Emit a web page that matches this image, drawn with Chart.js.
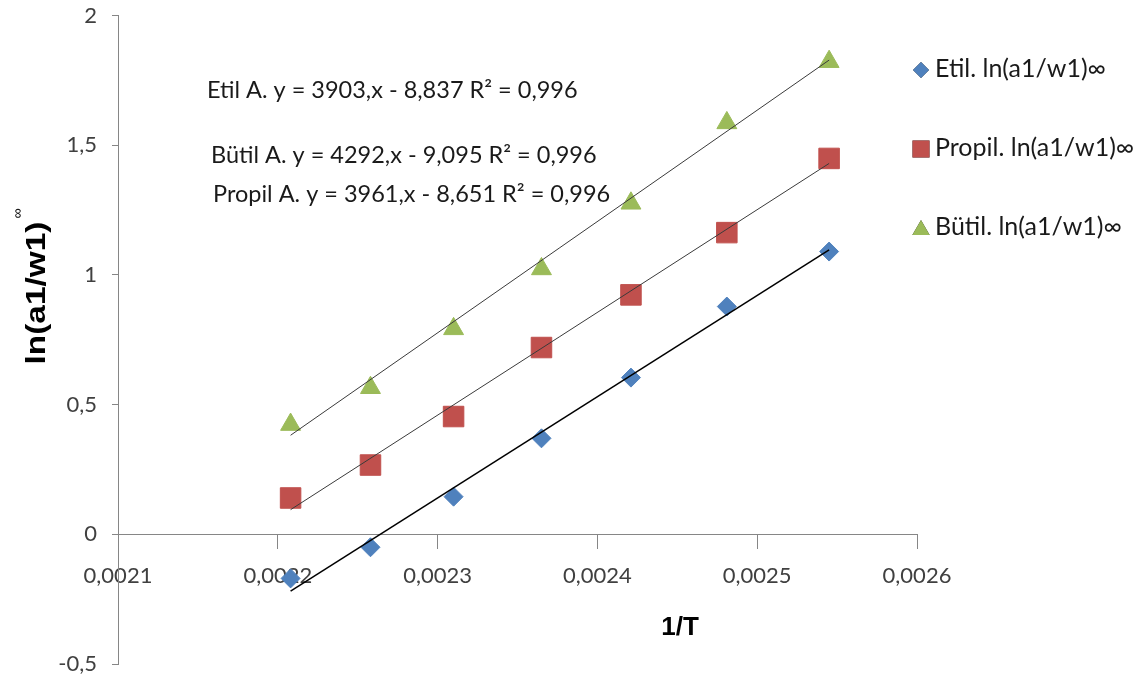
<!DOCTYPE html>
<html lang="tr">
<head>
<meta charset="utf-8">
<title>ln(a1/w1)∞ - 1/T</title>
<script src="https://cdn.jsdelivr.net/npm/chart.js@4.4.1/dist/chart.umd.min.js"></script>
<style>
  html, body { margin: 0; padding: 0; background: #fff; }
  #wrap { position: relative; width: 1145px; height: 684px; }
</style>
</head>
<body>
<div id="wrap"><canvas id="chart"></canvas></div>
<script>
// 1/T değerleri (x ekseni)
const invT = [0.002208, 0.002258, 0.00231, 0.002365, 0.002421, 0.002481, 0.002545];

// ln(a1/w1)∞ değerleri
const etil = [-0.17, -0.05, 0.145, 0.37, 0.604, 0.878, 1.09];
const propil = [0.14, 0.267, 0.454, 0.72, 0.923, 1.163, 1.449];
const butil = [0.423, 0.565, 0.792, 1.023, 1.276, 1.586, 1.822];

// eksen işaretleri
const xTicks = [0.0021, 0.0022, 0.0023, 0.0024, 0.0025, 0.0026];
const yTicks = [-0.5, 0, 0.5, 1, 1.5, 2];

const seriesNames = ['Etil. ln(a1/w1)∞', 'Propil. ln(a1/w1)∞', 'Bütil. ln(a1/w1)∞'];

// doğrusal eğilim: y = eğim * x + kesişim
const slopes = [3903, 3961, 4292];
const intercepts = [-8.837, -8.651, -9.095];
const equations = [
    'Etil A. y = 3903,x - 8,837 R² = 0,996',
    'Bütil A. y = 4292,x - 9,095 R² = 0,996',
    'Propil A. y = 3961,x - 8,651 R² = 0,996'
];

const colors = ['#4F81BD', '#C0504D', '#9BBB59'];
const markers = [
    { style: 'rectRot', radius: 9.5, legendRadius: 8 },
    { style: 'rect', radius: 14.5, legendRadius: 12 },
    { style: 'triangle', radius: 11.5, legendRadius: 10 }
];

const comma = (v, digits) => (digits ? v.toFixed(digits) : String(v)).replace('.', ',');

const toPoints = (ys) => ys.map((y, i) => ({ x: invT[i], y }));

// eğilim çizgisi: ilk ve son 1/T arasında
const trendPoints = (k) => [invT[0], invT[invT.length - 1]].map(x => ({ x, y: slopes[k] * x + intercepts[k] }));

const scatterSet = (k, values) => ({
    label: seriesNames[k],
    data: toPoints(values),
    showLine: false,
    pointStyle: markers[k].style,
    pointRadius: markers[k].radius,
    pointHoverRadius: markers[k].radius,
    backgroundColor: colors[k],
    borderColor: colors[k],
    borderWidth: 1,
    order: 2
});

const trendSet = (k, color, width) => ({
    label: 'trend ' + k,
    data: trendPoints(k),
    showLine: true,
    pointRadius: 0,
    borderColor: color,
    borderWidth: width,
    fill: false,
    order: 1
});

// denklemler, gösterge ve eksen başlıkları
const textPlugin = {
    id: 'texts',
    afterDraw(chart) {
        const c = chart.ctx;
        c.save();

        // eğilim denklemleri
        c.fillStyle = '#1a1a1a';
        c.font = '23.5px Lato';
        c.textBaseline = 'middle';
        c.textAlign = 'left';
        c.fillText(equations[0], 207, 90);
        c.fillText(equations[1], 211, 155);
        c.fillText(equations[2], 213, 194);

        // gösterge
        const legendY = [70, 149, 228];
        seriesNames.forEach((name, k) => {
            Chart.helpers.drawPoint(c, {
                pointStyle: markers[k].style,
                radius: markers[k].legendRadius,
                borderWidth: 0,
                rotation: 0
            }, 921, legendY[k] + (k === 2 ? 2 : 0));
            c.fillStyle = colors[k];
            c.fill();
            c.fillStyle = '#1a1a1a';
            c.font = '25px Lato';
            c.fillText(name, 935, legendY[k] - 1);
        });

        // x ekseni başlığı
        c.font = 'bold 26px "Liberation Sans"';
        c.textAlign = 'center';
        c.fillStyle = '#000';
        c.fillText('1/T', 680, 628);

        // y ekseni başlığı
        c.translate(37, 293);
        c.rotate(-Math.PI / 2);
        c.font = 'bold 28px "Liberation Sans"';
        const w = c.measureText('ln(a1/w1)').width;
        c.save();
        c.scale(143 / w, 1);
        c.fillText('ln(a1/w1)', 0, 0);
        c.restore();
        c.font = '14px "Liberation Sans"';
        c.textAlign = 'left';
        c.fillText('∞', 143 / 2 + 3, -19);

        c.restore();
    }
};

const ctx = document.getElementById('chart').getContext('2d');
const chart = new Chart(ctx, {
    type: 'scatter',
    data: {
        datasets: [
            trendSet(0, '#000000', 1.5),
            trendSet(1, '#3a3a3a', 1),
            trendSet(2, '#3a3a3a', 1),
            scatterSet(0, etil),
            scatterSet(1, propil),
            scatterSet(2, butil)
        ]
    },
    options: {
        responsive: true,
        maintainAspectRatio: false,
        animation: false,
        layout: { padding: { left: 0, top: 15, right: 228, bottom: 20 } },
        plugins: {
            legend: { display: false },
            tooltip: { enabled: false }
        },
        scales: {
            x: {
                type: 'linear',
                position: { y: 0 },
                min: 0.0021,
                max: 0.0026,
                afterBuildTicks: (scale) => { scale.ticks = xTicks.map(v => ({ value: v })); },
                grid: { drawOnChartArea: false, color: '#868686', tickLength: 14, tickWidth: 1 },
                border: { color: '#868686', width: 1 },
                ticks: {
                    padding: 14,
                    color: '#404040',
                    font: { family: 'Lato', size: 22 },
                    maxRotation: 0,
                    callback: (v) => comma(v, 4)
                }
            },
            y: {
                type: 'linear',
                min: -0.5,
                max: 2,
                afterBuildTicks: (scale) => { scale.ticks = yTicks.map(v => ({ value: v })); },
                afterFit: (scale) => {
                    // sabit genişlik; etiket boşluğu üst/alt kenara eklenmesin
                    scale.width = 118;
                    scale.paddingTop = 12;
                    scale.paddingBottom = 12;
                },
                grid: { drawOnChartArea: false, color: '#868686', tickLength: 6, tickWidth: 1 },
                border: { color: '#868686', width: 1 },
                ticks: {
                    padding: 15,
                    color: '#404040',
                    font: { family: 'Lato', size: 22 },
                    callback: (v) => comma(v)
                }
            }
        }
    },
    plugins: [textPlugin]
});
</script>
</body>
</html>
